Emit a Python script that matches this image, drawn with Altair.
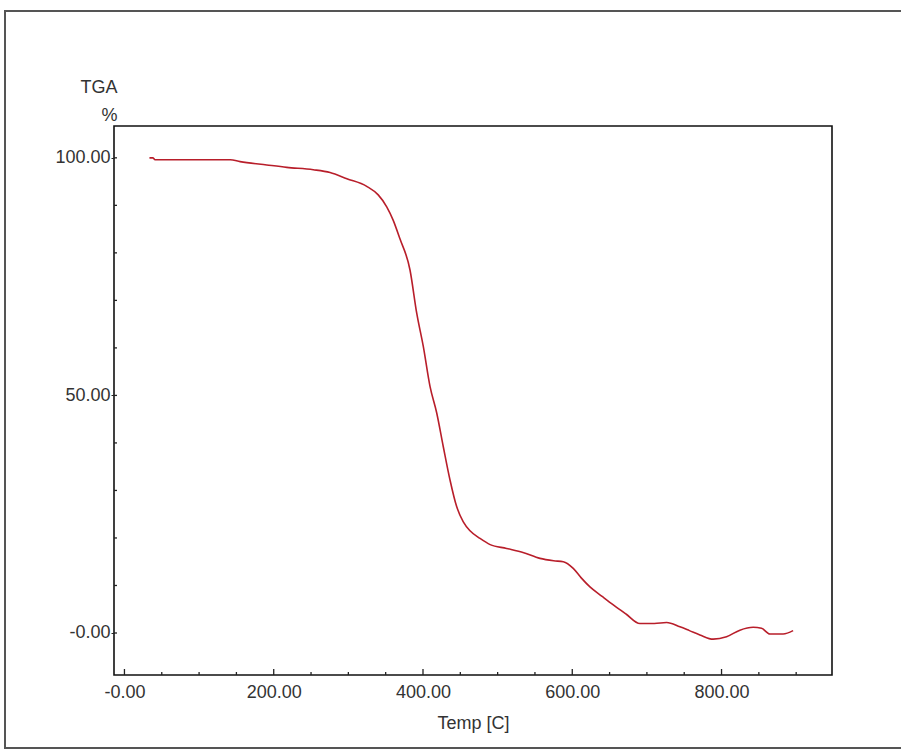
import altair as alt
import pandas as pd

# TGA curve: temperature [C] vs. remaining mass [%]
temps = [33.5, 38, 41, 100, 141.7, 155, 190.7, 217.5, 253, 275.5, 298, 324.6,
         340, 351.4, 360, 369, 382.6, 391.6, 400.4, 409.4, 418.4, 427.2, 436.2,
         445.1, 454, 463, 476.4, 490, 512, 535, 556.7, 575, 588, 601.3, 612,
         623.7, 640, 655, 672, 690.6, 710, 726.4, 744.2, 757, 771, 788.8, 806.7,
         824.6, 842.4, 853.6, 864.7, 882.5, 895.9]
tga = [100.0, 100.0, 99.6, 99.6, 99.6, 99.2, 98.5, 98.0, 97.5, 96.9, 95.6, 94.0,
       92.2, 89.7, 86.9, 83.0, 76.4, 67.3, 60.3, 51.9, 46.3, 39.2, 32.2,
       26.6, 23.4, 21.5, 19.9, 18.6, 17.8, 16.9, 15.7, 15.2, 15.0, 13.6, 11.6,
       9.7, 7.7, 5.9, 4.0, 2.0, 2.0, 2.2, 1.3, 0.5, -0.4, -1.3, -0.8,
       0.6, 1.2, 1.0, -0.2, -0.2, 0.5]

x_major = [0, 200, 400, 600, 800]
x_minor = [50, 100, 150, 250, 300, 350, 450, 500, 550, 650, 700, 750, 850, 900]
y_major = [0, 50, 100]
y_minor = [10, 20, 30, 40, 60, 70, 80, 90]

X_DOMAIN = [-14, 948]
Y_DOMAIN = [-8.84, 106.7]
W, H = 718, 549
FONT = "Liberation Sans"
LABEL = "-0.00"

curve = pd.DataFrame({"temp": temps, "tga": tga})

xs = alt.Scale(domain=X_DOMAIN, nice=False, zero=False)
ys = alt.Scale(domain=Y_DOMAIN, nice=False, zero=False)

fmt = f"datum.value == 0 ? '{LABEL}' : format(datum.value, '.2f')"

line = alt.Chart(curve).mark_line(color="#b81e2a", strokeWidth=1.6, clip=True,
                                  interpolate="monotone").encode(
    x=alt.X("temp:Q", scale=xs,
            axis=alt.Axis(values=x_major, labelExpr=fmt, title="Temp  [C]",
                          tickSize=0, labelPadding=8, titlePadding=13,
                          grid=False, domain=False)),
    y=alt.Y("tga:Q", scale=ys,
            axis=alt.Axis(values=y_major, labelExpr=fmt, title=["TGA", "%"],
                          titleAngle=0, titleAlign="right", titleBaseline="alphabetic",
                          titleX=3, titleY=-34, titleLineHeight=28,
                          tickSize=3, tickColor="#222", labelPadding=1,
                          grid=False, domain=False)),
)

# inward tick marks along the bottom and left edges
xt_major = alt.Chart(pd.DataFrame({"v": x_major})).mark_rule(color="#222", strokeWidth=1.3).encode(
    x=alt.X("v:Q", scale=xs), y=alt.value(H), y2=alt.value(H - 6))
xt_minor = alt.Chart(pd.DataFrame({"v": x_minor})).mark_rule(color="#222", strokeWidth=1.3).encode(
    x=alt.X("v:Q", scale=xs), y=alt.value(H), y2=alt.value(H - 3))
yt_major = alt.Chart(pd.DataFrame({"v": y_major})).mark_rule(color="#222", strokeWidth=1.3).encode(
    y=alt.Y("v:Q", scale=ys), x=alt.value(0), x2=alt.value(3))
yt_minor = alt.Chart(pd.DataFrame({"v": y_minor})).mark_rule(color="#222", strokeWidth=1.3).encode(
    y=alt.Y("v:Q", scale=ys), x=alt.value(0), x2=alt.value(3))

# outer window frame
frame = alt.Chart(pd.DataFrame({"a": [0]})).mark_rect(
    fill=None, stroke="#555", strokeWidth=2, clip=False).encode(
    x=alt.value(-109), x2=alt.value(795), y=alt.value(-115), y2=alt.value(622))

chart = alt.layer(frame, line, xt_major, xt_minor, yt_major, yt_minor).properties(
    width=W, height=H,
    padding={"left": 114, "top": 126, "right": 69, "bottom": 74},
    autosize=alt.AutoSizeParams(type="none"),
    background="white",
).configure_view(
    stroke="#111", strokeWidth=1.6
).configure_axis(
    labelFont=FONT, titleFont=FONT, labelFontSize=18, titleFontSize=18,
    labelColor="#333", titleColor="#333", titleFontWeight="normal",
)

chart.save("out.html", embed_options={"renderer": "svg", "actions": False})
